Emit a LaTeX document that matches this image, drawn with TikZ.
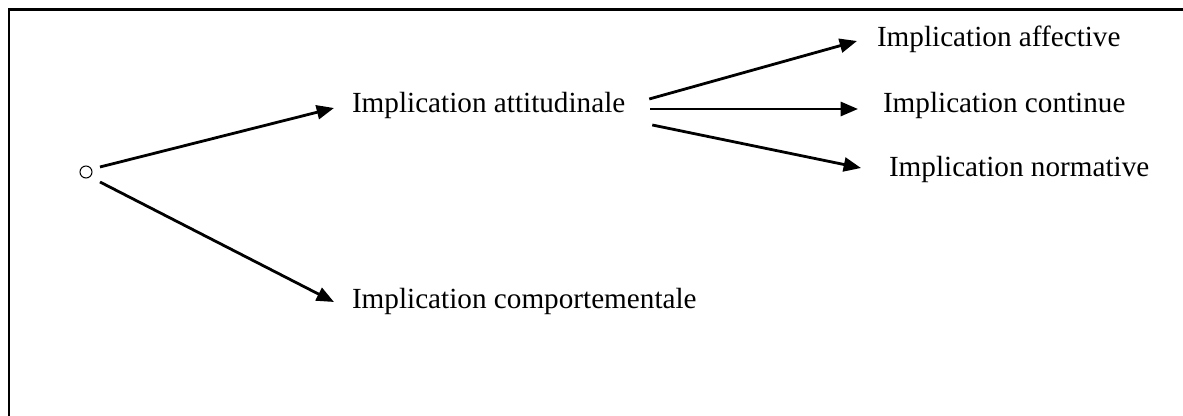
\documentclass[tikz,border=0pt]{standalone}
\usepackage{fontspec}
\setmainfont{Liberation Serif}
\usetikzlibrary{arrows.meta}
\begin{document}
\begin{tikzpicture}[x=0.75pt,y=-0.75pt,
  lbl/.style={anchor=base west, inner sep=0pt, outer sep=0pt, font=\fontsize{21.9}{26}\selectfont},
  arr/.style={line width=2.1pt, -{Triangle[length=13pt,width=10.5pt]}},
  frame/.style={line width=1.8pt, line cap=rect}]
\useasboundingbox (0,0) rectangle (1183,416);
\draw[frame] (9,420) -- (9,9.5) -- (1190,9.5);
\node[circle, draw, line width=0.8pt, minimum size=9pt, inner sep=0pt] (c) at (86,172) {};
\node[lbl] (att) at (352,113) {Implication attitudinale};
\node[lbl] (comp) at (352,309) {Implication comportementale};
\node[lbl] (aff) at (877,47) {Implication affective};
\node[lbl] (cont) at (883,113) {Implication continue};
\node[lbl] (norm) at (889,177) {Implication normative};
\draw[arr] ([shift={(14,-5)}]c.center) -- ([shift={(-18,-5)}]att.base west);
\draw[arr] ([shift={(14,10)}]c.center) -- ([shift={(-18,-7)}]comp.base west);
\draw[arr] ([shift={(24,-14)}]att.base east) -- ([shift={(-20,-6)}]aff.base west);
\draw[arr] ([shift={(25,-4)}]att.base east) -- ([shift={(-25,-4)}]cont.base west);
\draw[arr] ([shift={(27,12)}]att.base east) -- ([shift={(-28,-9)}]norm.base west);
\end{tikzpicture}
\end{document}
